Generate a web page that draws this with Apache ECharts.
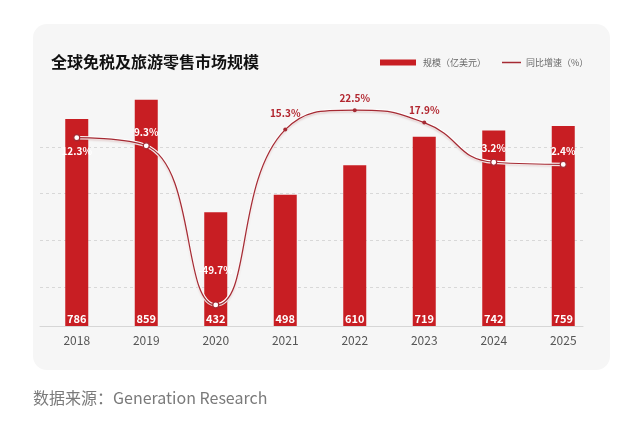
<!DOCTYPE html>
<html>
<head>
<meta charset="utf-8">
<title>全球免税及旅游零售市场规模</title>
<script src="https://cdn.jsdelivr.net/npm/echarts@6/dist/echarts.min.js"></script>
<style>
    html, body { margin: 0; padding: 0; background: #fff; }
    #chart { width: 640px; height: 423px; }
</style>
</head>
<body>
<div id="chart"></div>
<script>
var years = ['2018', '2019', '2020', '2021', '2022', '2023', '2024', '2025'];
var marketSize = [786, 859, 432, 498, 610, 719, 742, 759];
var growthRate = [12.3, 9.3, -49.7, 15.3, 22.5, 17.9, 3.2, 2.4];

var font = '"Noto Sans CJK SC", "Noto Sans", sans-serif';
var barColor = '#c81e23';
var lineColor = '#a52a33';
var labelRed = '#b2262f';

// points above the bars get a filled dot and a red label
var growthData = growthRate.map(function (v, i) {
    var high = v >= 15;
    var item = {
        value: v,
        symbolSize: high ? 4 : 6,
        itemStyle: high
            ? { color: lineColor, borderWidth: 0 }
            : { color: '#fff', borderColor: lineColor, borderWidth: 1.2 },
        label: { color: high ? labelRed : '#fff' }
    };
    if (i === 0) item.label.position = 'bottom';
    if (v < 0) item.label.distance = 26;
    if (i === 3) item.label.distance = 9;
    return item;
});

var myChart = echarts.init(document.getElementById('chart'));
var option = {
    animation: false,
    textStyle: { fontFamily: font },
    title: {
        text: '全球免税及旅游零售市场规模',
        left: 46,
        top: 49,
        textStyle: { fontSize: 16, fontWeight: 'bold', color: '#111', fontFamily: font }
    },
    legend: [{
        data: ['规模（亿美元）'],
        left: 375,
        top: 53,
        icon: 'rect',
        itemWidth: 36,
        itemHeight: 6,
        textStyle: { fontSize: 9, color: '#666', padding: [0, 0, 0, 2] }
    }, {
        data: ['同比增速（%）'],
        left: 497,
        top: 53,
        icon: 'rect',
        itemWidth: 19,
        itemHeight: 1.5,
        textStyle: { fontSize: 9, color: '#666' }
    }],
    graphic: [{
        type: 'rect',
        left: 33,
        top: 24,
        z: -10,
        shape: { width: 577, height: 346, r: 14 },
        style: { fill: '#f6f6f6' }
    }, {
        type: 'text',
        left: 33,
        top: 390,
        style: { text: '数据来源：Generation Research', fill: '#7a7a7a', fontSize: 16, fontFamily: font }
    }],
    grid: [
        { left: 42, right: 42, top: 70, bottom: 97 },
        { left: 40, right: 57, top: 147, bottom: 97 }
    ],
    xAxis: [{
        type: 'category',
        gridIndex: 0,
        data: years,
        axisLine: { show: false },
        axisTick: { show: false },
        axisLabel: { color: '#555', fontSize: 12, margin: 8 }
    }, {
        type: 'value',
        gridIndex: 1,
        axisLine: { show: true, onZero: false, lineStyle: { color: '#d6d6d6' } },
        axisTick: { show: false },
        axisLabel: { show: false },
        splitLine: { show: false }
    }],
    yAxis: [{
        type: 'value',
        gridIndex: 0,
        min: 0,
        max: 972,
        show: false
    }, {
        type: 'value',
        gridIndex: 0,
        min: -57.5,
        max: 37.4,
        show: false
    }, {
        type: 'value',
        gridIndex: 1,
        inverse: true,
        min: 0,
        max: 3.833,
        interval: 1,
        axisLine: { show: false },
        axisTick: { show: false },
        axisLabel: { show: false },
        splitLine: { lineStyle: { color: '#d8d8d8', type: [3, 3] } }
    }],
    series: [{
        name: '规模（亿美元）',
        type: 'bar',
        xAxisIndex: 0,
        yAxisIndex: 0,
        barWidth: 23,
        itemStyle: { color: barColor },
        label: {
            show: true,
            position: 'insideBottom',
            distance: 2,
            color: '#fff',
            fontSize: 11,
            fontWeight: 'bold'
        },
        z: 2,
        data: marketSize
    }, {
        name: 'halo',
        type: 'line',
        xAxisIndex: 0,
        yAxisIndex: 1,
        smooth: 0.5,
        symbol: 'none',
        silent: true,
        lineStyle: { color: '#fff', width: 3.5 },
        z: 3,
        data: growthRate
    }, {
        name: '同比增速（%）',
        type: 'line',
        xAxisIndex: 0,
        yAxisIndex: 1,
        smooth: 0.5,
        symbol: 'circle',
        lineStyle: {
            color: lineColor,
            width: 1.2,
            shadowColor: 'rgba(120,0,0,0.25)',
            shadowBlur: 2,
            shadowOffsetY: 1.5
        },
        itemStyle: { color: lineColor },
        label: {
            show: true,
            position: 'top',
            distance: 5,
            fontSize: 10,
            fontWeight: 'bold',
            formatter: '{c}%'
        },
        z: 4,
        data: growthData
    }]
};
myChart.setOption(option);
</script>
</body>
</html>
